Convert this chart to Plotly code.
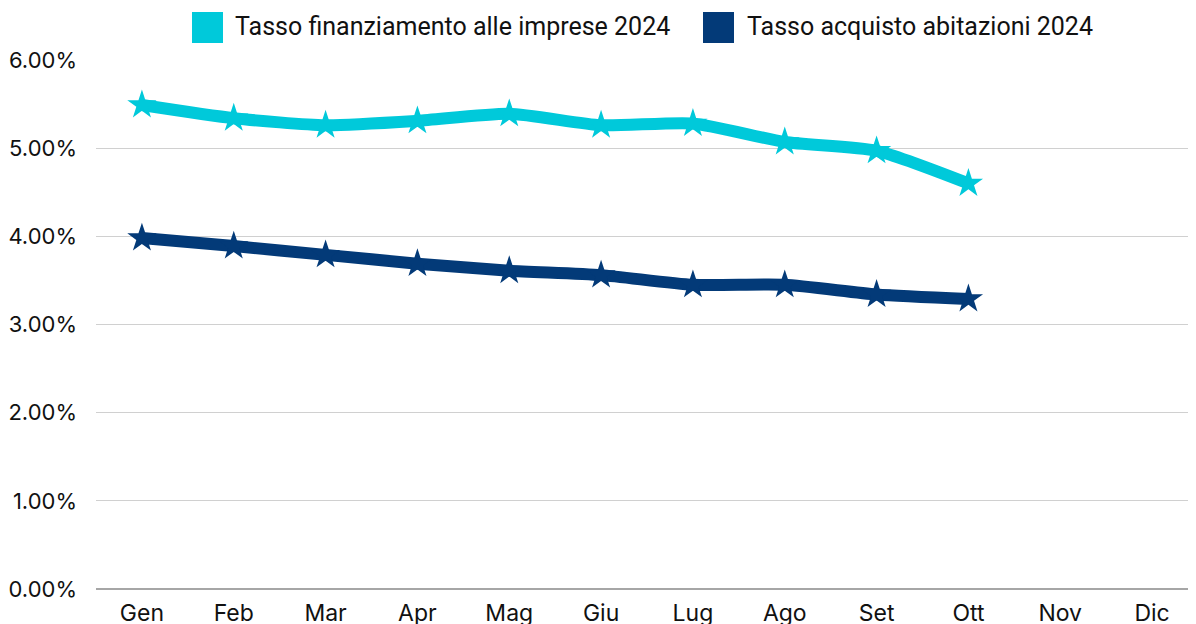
import plotly.graph_objects as go

months = ["Gen", "Feb", "Mar", "Apr", "Mag", "Giu", "Lug", "Ago", "Set", "Ott", "Nov", "Dic"]
imprese_2024 = [5.49, 5.34, 5.26, 5.31, 5.39, 5.26, 5.28, 5.07, 4.97, 4.60]
abitazioni_2024 = [3.98, 3.89, 3.79, 3.69, 3.61, 3.56, 3.45, 3.45, 3.34, 3.29]
y_ticks = [0, 1, 2, 3, 4, 5, 6]

name_imp = "Tasso finanziamento alle imprese 2024"
name_abi = "Tasso acquisto abitazioni 2024"
c_imp = "#00C9DA"
c_abi = "#033A78"

fig = go.Figure()
for name, vals, col in [(name_imp, imprese_2024, c_imp), (name_abi, abitazioni_2024, c_abi)]:
    fig.add_trace(go.Scatter(
        x=months[:len(vals)], y=vals, mode="lines+markers", name=name,
        line=dict(color=col, width=12, shape="spline", smoothing=0.6),
        marker=dict(symbol="star", size=22, color=col),
        showlegend=False,
    ))

# page offset of 8px (body margin) compensated in margins
L, T, R, B, W, H = 88, 52, 6, 43, 1196, 624
pw, ph = W - L - R, H - T - B


def px(x):  # screen x -> paper
    return (x - 8 - L) / pw


def py(y):  # screen y -> paper
    return (H - B - (y - 8)) / ph


# custom legend with large square swatches
legend_items = [(name_imp, c_imp, 192, 223, 233), (name_abi, c_abi, 703, 734, 745)]
for name, col, x0, x1, tx in legend_items:
    fig.add_shape(type="rect", xref="paper", yref="paper",
                  x0=px(x0), x1=px(x1), y0=py(43), y1=py(12),
                  fillcolor=col, line=dict(width=0), layer="above")
    fig.add_annotation(text=name, xref="paper", yref="paper", x=px(tx), y=py(26.5),
                       xanchor="left", yanchor="middle", showarrow=False,
                       font=dict(family="Roboto, sans-serif", size=25, color="#111111"))

fig.update_layout(
    width=W, height=H,
    paper_bgcolor="white", plot_bgcolor="white",
    margin=dict(l=L, r=R, t=T, b=B, autoexpand=False),
    font=dict(family="Inter, Roboto, sans-serif", size=22, color="#111111"),
    showlegend=False,
    xaxis=dict(type="category", categoryorder="array", categoryarray=months,
               range=[-0.5, 11.5], showgrid=False, showline=False, zeroline=False,
               automargin=False, ticklabelstandoff=8,
               tickfont=dict(size=23, family="Inter, Roboto, sans-serif")),
    yaxis=dict(range=[0, 6], tickvals=y_ticks,
               ticktext=[f"{v:.2f}%" for v in y_ticks],
               showgrid=True, gridcolor="#D0D0D0", gridwidth=1,
               zeroline=True, zerolinecolor="#A6A6A6", zerolinewidth=1.5,
               showline=False, ticklabelstandoff=18, automargin=False,
               tickfont=dict(size=22, family="Inter, Roboto, sans-serif")),
)
fig.write_html("out.html")
